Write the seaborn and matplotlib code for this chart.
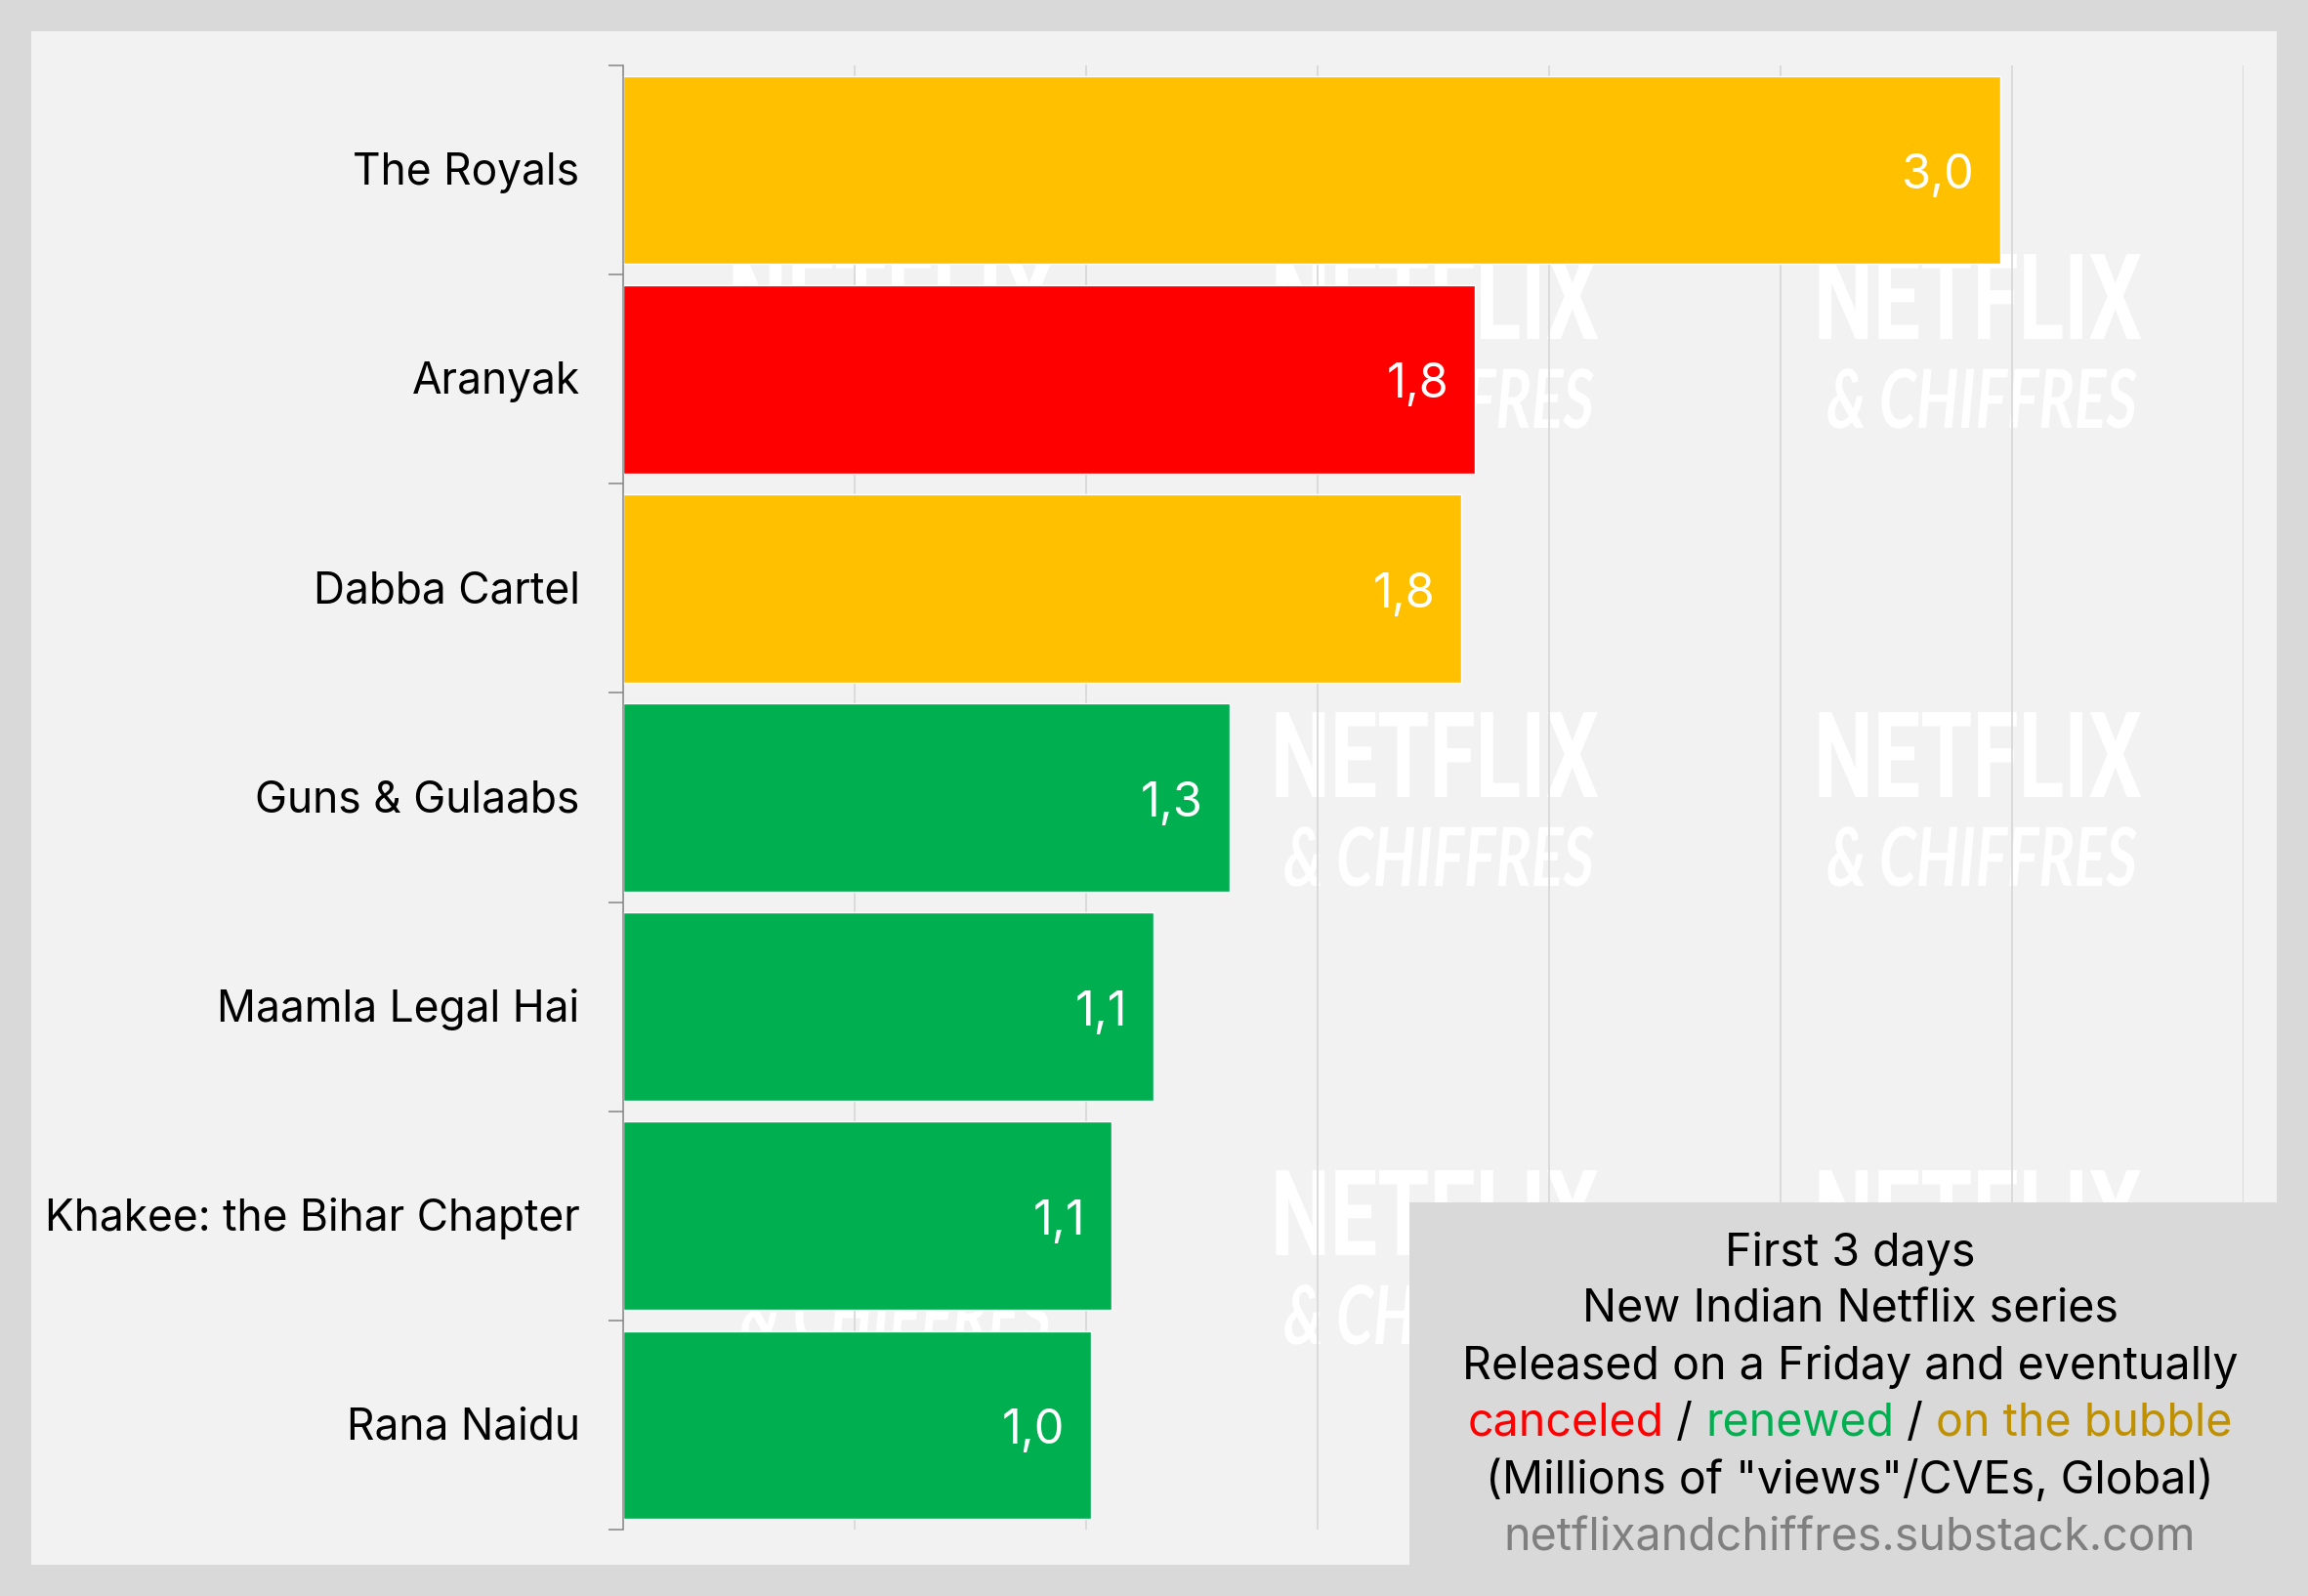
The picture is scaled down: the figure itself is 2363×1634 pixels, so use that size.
import numpy as np
import pandas as pd
import matplotlib
matplotlib.use("Agg")
import matplotlib.pyplot as plt
import matplotlib.patheffects as pe
from matplotlib.patches import Rectangle
from matplotlib.transforms import Affine2D, ScaledTranslation
import seaborn as sns

series = ["The Royals", "Aranyak", "Dabba Cartel", "Guns & Gulaabs",
          "Maamla Legal Hai", "Khakee: the Bihar Chapter", "Rana Naidu"]
views = [2.975, 1.84, 1.81, 1.31, 1.145, 1.055, 1.01]
value_labels = ["3,0", "1,8", "1,8", "1,3", "1,1", "1,1", "1,0"]
status = ["bubble", "canceled", "bubble", "renewed", "renewed", "renewed", "renewed"]
status_colors = {"bubble": "#FFC000", "canceled": "#FF0000", "renewed": "#00B050"}
caption_lines = ["First 3 days", "New Indian Netflix series",
                 "Released on a Friday and eventually"]
legend_parts = [("canceled", "#FF0000"), (" / ", "black"), ("renewed", "#00B050"),
                (" / ", "black"), ("on the bubble", "#BF9000")]
caption_tail = [('(Millions of "views"/CVEs, Global)', "black"),
                ("netflixandchiffres.substack.com", "#7F7F7F")]

W, H = 2363, 1634
DPI = 100
FONT = "Inter"
FS = 31.9
FS_CAP = 33.5
FS_VAL = 35

sns.set_theme(style="white")
plt.rcParams["font.family"] = [FONT, "DejaVu Sans"]

fig = plt.figure(figsize=(W / DPI, H / DPI), dpi=DPI, facecolor="#D9D9D9")


def fx(x):
    return x / W


def fy(y):
    return 1 - y / H


class Stretch(pe.AbstractPathEffect):
    def __init__(self, sx=1.0, sy=1.0):
        super().__init__()
        self.sx, self.sy = sx, sy

    def draw_path(self, renderer, gc, tpath, affine, rgbFace=None):
        renderer.draw_path(gc, tpath, Affine2D().scale(self.sx, self.sy) + affine, rgbFace)


fig.add_artist(Rectangle((fx(32), fy(1602)), fx(2331 - 32), (1602 - 32) / H,
                         transform=fig.transFigure, fc="#F2F2F2", ec="none", zorder=-2))

renderer = fig.canvas.get_renderer()


def mark(x0, baseline, s, width, height, **kw):
    # Font size gives the width; a vertical stretch gives the tall condensed look.
    t = fig.text(fx(x0), fy(baseline), s, color="white", ha="left", va="baseline",
                 fontsize=80, zorder=-1, **kw)
    fs = 80 * width / t.get_window_extent(renderer).width
    t.set_fontsize(fs)
    t.set_path_effects([Stretch(1.0, height / (fs * DPI / 72 * 0.72))])
    return t


hidden_netflix = {(1, 0), (2, 0)}          # (row, col) fully behind a bar
hidden_chiffres = {(0, 0), (1, 0), (2, 2)}  # behind a bar or the caption box
for col in range(3):
    for row in range(3):
        x_off = 556 * col
        y_off = 469 * row
        if (row, col) not in hidden_netflix:
            mark(745 + x_off, 347 + y_off, "NETFLIX", 336, 88,
                 family="Roboto", weight="bold")
        if (row, col) not in hidden_chiffres:
            mark(758 + x_off, 438 + y_off, "& CHIFFRES", 318, 60,
                 family="Lato", weight="bold", style="italic")

ax = fig.add_axes([fx(638), fy(1566), fx(2297 - 638), (1566 - 67) / H])
ax.patch.set_alpha(0)

df = pd.DataFrame({"series": series, "views": views, "status": status})
sns.barplot(data=df, y="series", x="views", hue="series",
            palette=[status_colors[s] for s in status], legend=False, dodge=False,
            width=0.9, saturation=1, ax=ax)

ax.set_xlim(0, 3.5)
ax.set_ylim(6.5, -0.5)
ax.set_xlabel("")
ax.set_ylabel("")
ax.set_xticks(np.arange(0, 3.6, 0.5))
ax.tick_params(axis="x", length=0, labelbottom=False)
ax.set_axisbelow(True)
ax.xaxis.grid(True, color="#D9D9D9", linewidth=1.3)
ax.yaxis.grid(False)
for side in ("top", "right", "bottom"):
    ax.spines[side].set_visible(False)
ax.spines["left"].set_color("#868686")
ax.spines["left"].set_linewidth(1.1)

ax.set_yticks(range(len(series)))
ax.set_yticklabels(series, fontsize=FS, color="black")
ax.set_yticks(np.arange(-0.5, len(series)), minor=True)
ax.tick_params(axis="y", which="major", length=0, pad=32)
ax.tick_params(axis="y", which="minor", length=15 * 72 / DPI, width=1.1, color="#868686", left=True)
lift = ScaledTranslation(0, 1.5 / DPI, fig.dpi_scale_trans)
for t in ax.get_yticklabels():
    t.set_transform(t.get_transform() + lift)

for i, (v, lab) in enumerate(zip(views, value_labels)):
    ax.annotate(lab, (v, i), xytext=(-27 * 72 / DPI, -4.5), textcoords="offset points",
                ha="right", va="center", color="white", fontsize=FS_VAL)

fig.add_artist(Rectangle((fx(1443), fy(1602)), fx(2331 - 1443), (1602 - 1231) / H,
                         transform=fig.transFigure, fc="#D9D9D9", ec="none", zorder=5))

cx = 1894
line_y = [1284, 1342, 1400, 1458, 1517, 1576]
for y, s in zip(line_y[:3], caption_lines):
    fig.text(fx(cx), fy(y), s, ha="center", va="center", fontsize=FS_CAP, color="black", zorder=6)
for y, (s, c) in zip(line_y[4:], caption_tail):
    fig.text(fx(cx), fy(y), s, ha="center", va="center", fontsize=FS_CAP, color=c, zorder=6)

parts = [fig.text(0, fy(line_y[3]), s, ha="left", va="center", fontsize=FS_CAP, color=c, zorder=6)
         for s, c in legend_parts]
widths = [p.get_window_extent(renderer).width for p in parts]
x = cx - sum(widths) / 2
for p, w in zip(parts, widths):
    p.set_x(fx(x))
    x += w

fig.savefig("out.png", dpi=DPI, facecolor=fig.get_facecolor())
